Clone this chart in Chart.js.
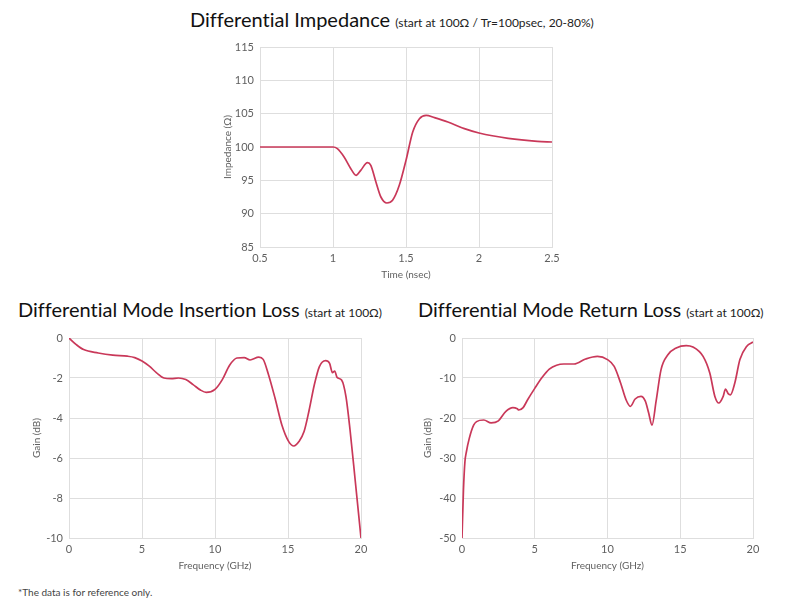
<!DOCTYPE html>
<html>
<head>
<meta charset="utf-8">
<script src="https://cdn.jsdelivr.net/npm/chart.js@4.4.1/dist/chart.umd.min.js"></script>
<style>
  body { margin: 0; background: #fff; font-family: Lato, sans-serif; }
  #page { position: relative; width: 800px; height: 608px; overflow: hidden; }
  .title { position: absolute; white-space: nowrap; color: #111; font-size: 20px; line-height: 1;
           font-variant-ligatures: none; }
  .title small { font-size: 12px; color: #222; }
  .box { position: absolute; }
  .note { position: absolute; left: 18px; top: 586px; font-size: 10px; color: #444; }
</style>
</head>
<body>
<div id="page">
  <div class="title" style="left:190px; top:9px;">Differential Impedance <small>(start at 100Ω / Tr=100psec, 20-80%)</small></div>
  <div class="title" style="left:18px; top:299px;">Differential Mode Insertion Loss <small>(start at 100Ω)</small></div>
  <div class="title" style="left:418px; top:299px;">Differential Mode Return Loss <small>(start at 100Ω)</small></div>

  <canvas id="impChart" class="box" style="left:218px; top:40px;" width="342" height="245"></canvas>
  <canvas id="ilChart" class="box" style="left:27px; top:330px;" width="344" height="246"></canvas>
  <canvas id="rlChart" class="box" style="left:418px; top:330px;" width="345" height="246"></canvas>

  <div class="note">*The data is for reference only.</div>
</div>

<script>
// impedance (TDR)
const timeNs = [0.5, 1.0, 1.03, 1.076, 1.122, 1.158, 1.19, 1.236, 1.259, 1.294, 1.328, 1.369, 1.408, 1.454, 1.5,
  1.546, 1.592, 1.638, 1.695, 1.787, 1.9, 2.0, 2.2, 2.4, 2.5];
const impedance = [100, 100, 99.75, 98.5, 96.75, 95.75, 96.5, 97.65, 97.25, 94.75, 92.5, 91.6, 92.0, 94.25, 98.0,
  102.25, 104.25, 104.75, 104.4, 103.75, 102.75, 102.1, 101.3, 100.85, 100.75];

// insertion loss
const freqIL = [0, 0.5, 1, 2, 3, 4, 4.5, 5, 5.5, 6, 6.5, 7, 7.5, 8, 8.5, 9, 9.4, 10, 10.5, 11, 11.5, 12, 12.4, 13,
  13.3, 13.64, 14.11, 14.58, 15.05, 15.4, 15.75, 16.1, 16.45, 16.8, 17.15, 17.57, 17.85, 18.04, 18.2, 18.36,
  18.67, 18.97, 19.25, 19.6, 20];
const insertionLoss = [0, -0.33, -0.58, -0.75, -0.86, -0.91, -0.98, -1.15, -1.41, -1.74, -2.0, -2.03, -2.0, -2.08,
  -2.33, -2.6, -2.72, -2.57, -2.08, -1.36, -1.0, -0.98, -1.1, -0.96, -1.07, -1.77, -3.0, -4.35, -5.18, -5.4,
  -5.18, -4.68, -3.6, -2.35, -1.43, -1.13, -1.27, -1.73, -1.65, -1.97, -2.1, -2.93, -4.6, -7.1, -10];

// return loss
const freqRL = [0, 0.1, 0.2, 0.3, 0.5, 0.8, 1.0, 1.5, 2.0, 2.5, 3.0, 3.5, 3.8, 3.9, 4.2, 4.5, 5.0, 5.5, 6.0, 6.5,
  7.0, 7.7, 8.5, 9.31, 10.0, 10.46, 10.9, 11.27, 11.57, 11.9, 12.3, 12.6, 12.83, 13.06, 13.34, 13.68, 14.15,
  14.72, 15.41, 15.87, 16.57, 17.03, 17.38, 17.65, 17.95, 18.11, 18.29, 18.45, 18.75, 19.1, 19.56, 20];
const returnLoss = [-50, -38, -31, -28.5, -25.1, -21.8, -20.9, -20.5, -21.2, -20.7, -18.4, -17.4, -17.7, -18,
  -17.4, -15.5, -12.6, -9.9, -7.8, -6.8, -6.5, -6.5, -5.25, -4.6, -5.4, -7.1, -11.25, -15.4, -17.1, -15.25,
  -14.6, -15.8, -18.75, -21.8, -15.8, -7.9, -4.2, -2.5, -1.9, -2.25, -4.6, -8.75, -14.6, -16.25, -14.6, -12.75,
  -13.9, -14.2, -11.25, -5.4, -2.1, -1.0];

const lineColor = "#c93859";
const gridColor = "#dedede";
const tickColor = "#5f5f5f";

function fmt(v) {
    return String(Math.round(v * 100) / 100);
}

// keep the plot box where the layout padding puts it
function noPad(s) {
    s.paddingTop = 0;
    s.paddingBottom = 0;
    s.paddingLeft = 0;
    s.paddingRight = 0;
}

function makeChart(canvasId, xs, ys, o) {
    const ctx = document.getElementById(canvasId).getContext("2d");
    return new Chart(ctx, {
        type: "line",
        data: {
            datasets: [{
                data: xs.map((x, i) => ({ x: x, y: ys[i] })),
                borderColor: lineColor,
                borderWidth: 1.7,
                pointRadius: 0,
                cubicInterpolationMode: "monotone",
                fill: false
            }]
        },
        options: {
            responsive: false,
            animation: false,
            layout: { padding: { top: o.padTop, right: o.padRight, left: 0, bottom: 0 } },
            plugins: {
                legend: { display: false },
                tooltip: { enabled: false }
            },
            scales: {
                x: {
                    type: "linear",
                    min: o.xMin,
                    max: o.xMax,
                    grid: { color: gridColor, drawTicks: false },
                    border: { color: gridColor },
                    ticks: {
                        stepSize: o.xStep,
                        padding: 5,
                        maxRotation: 0,
                        color: tickColor,
                        font: { family: "Lato", size: 11 },
                        callback: v => fmt(v)
                    },
                    title: {
                        display: true,
                        text: o.xTitle,
                        color: tickColor,
                        font: { family: "Lato", size: 10 }
                    },
                    afterFit: s => { s.height = 38; noPad(s); }
                },
                y: {
                    min: o.yMin,
                    max: o.yMax,
                    grid: { color: gridColor, drawTicks: false },
                    border: { color: gridColor },
                    ticks: {
                        stepSize: o.yStep,
                        padding: 6,
                        color: tickColor,
                        font: { family: "Lato", size: 11 },
                        callback: v => fmt(v)
                    },
                    title: {
                        display: true,
                        text: o.yTitle,
                        color: tickColor,
                        font: { family: "Lato", size: 10 }
                    },
                    afterFit: s => { s.width = o.yWidth; noPad(s); }
                }
            }
        }
    });
}

makeChart("impChart", timeNs, impedance, {
    xMin: 0.5, xMax: 2.5, xStep: 0.5, yMin: 85, yMax: 115, yStep: 5,
    xTitle: "Time (nsec)", yTitle: "Impedance (Ω)", padTop: 7, padRight: 8, yWidth: 42
});
makeChart("ilChart", freqIL, insertionLoss, {
    xMin: 0, xMax: 20, xStep: 5, yMin: -10, yMax: 0, yStep: 2,
    xTitle: "Frequency (GHz)", yTitle: "Gain (dB)", padTop: 8, padRight: 10, yWidth: 42
});
makeChart("rlChart", freqRL, returnLoss, {
    xMin: 0, xMax: 20, xStep: 5, yMin: -50, yMax: 0, yStep: 10,
    xTitle: "Frequency (GHz)", yTitle: "Gain (dB)", padTop: 8, padRight: 10, yWidth: 44
});
</script>
</body>
</html>
